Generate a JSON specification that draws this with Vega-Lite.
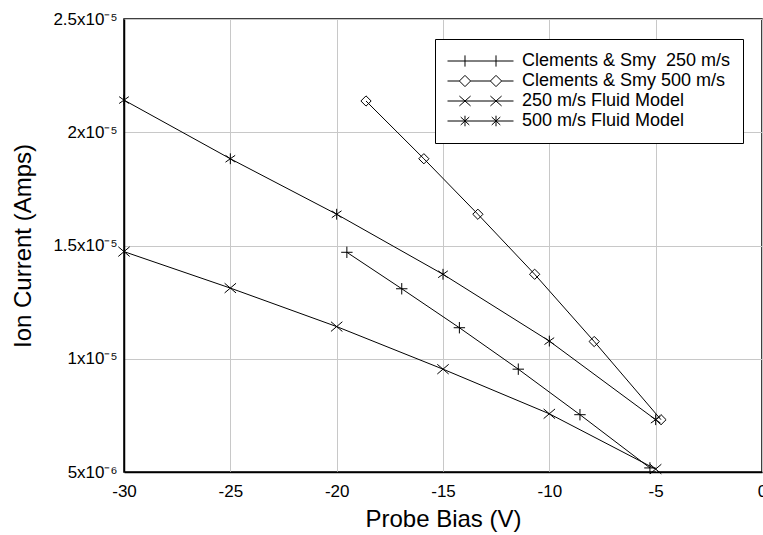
{
  "$schema": "https://vega.github.io/schema/vega-lite/v6.json",
  "width": 638,
  "height": 453,
  "autosize": {"type": "none"},
  "padding": {"left": 124, "top": 19, "right": 1, "bottom": 63},
  "background": "white",
  "config": {
    "font": "Liberation Sans",
    "view": {"stroke": "black", "strokeWidth": 1.5},
    "axis": {
      "labelFont": "Liberation Sans",
      "titleFont": "Liberation Sans",
      "labelColor": "black",
      "titleColor": "black",
      "labelFontSize": 17,
      "titleFontSize": 24,
      "titleFontWeight": "normal",
      "gridColor": "#c8c8c8",
      "gridWidth": 1,
      "domainColor": "black",
      "domainWidth": 1.5,
      "ticks": false
    }
  },
  "datasets": {
    "pts": [
      {"series": "Clements & Smy\u00a0 250 m/s", "bias": -19.52, "current": 1.470e-5},
      {"series": "Clements & Smy\u00a0 250 m/s", "bias": -16.94, "current": 1.309e-5},
      {"series": "Clements & Smy\u00a0 250 m/s", "bias": -14.23, "current": 1.137e-5},
      {"series": "Clements & Smy\u00a0 250 m/s", "bias": -11.46, "current": 0.954e-5},
      {"series": "Clements & Smy\u00a0 250 m/s", "bias": -8.56, "current": 0.753e-5},
      {"series": "Clements & Smy\u00a0 250 m/s", "bias": -5.27, "current": 0.518e-5},
      {"series": "Clements & Smy 500 m/s", "bias": -18.62, "current": 2.138e-5},
      {"series": "Clements & Smy 500 m/s", "bias": -15.90, "current": 1.883e-5},
      {"series": "Clements & Smy 500 m/s", "bias": -13.36, "current": 1.638e-5},
      {"series": "Clements & Smy 500 m/s", "bias": -10.69, "current": 1.373e-5},
      {"series": "Clements & Smy 500 m/s", "bias": -7.89, "current": 1.076e-5},
      {"series": "Clements & Smy 500 m/s", "bias": -4.75, "current": 0.731e-5},
      {"series": "250 m/s Fluid Model", "bias": -30, "current": 1.473e-5},
      {"series": "250 m/s Fluid Model", "bias": -25, "current": 1.312e-5},
      {"series": "250 m/s Fluid Model", "bias": -20, "current": 1.142e-5},
      {"series": "250 m/s Fluid Model", "bias": -15, "current": 0.954e-5},
      {"series": "250 m/s Fluid Model", "bias": -10, "current": 0.757e-5},
      {"series": "250 m/s Fluid Model", "bias": -5, "current": 0.513e-5},
      {"series": "500 m/s Fluid Model", "bias": -30, "current": 2.142e-5},
      {"series": "500 m/s Fluid Model", "bias": -25, "current": 1.883e-5},
      {"series": "500 m/s Fluid Model", "bias": -20, "current": 1.638e-5},
      {"series": "500 m/s Fluid Model", "bias": -15, "current": 1.373e-5},
      {"series": "500 m/s Fluid Model", "bias": -10, "current": 1.078e-5},
      {"series": "500 m/s Fluid Model", "bias": -5, "current": 0.731e-5}
    ]
  },
  "data": {"name": "pts"},
  "encoding": {
    "x": {
      "field": "bias",
      "type": "quantitative",
      "scale": {"domain": [-30, 0], "nice": false, "zero": false},
      "axis": {
        "title": "Probe Bias (V)",
        "values": [-30, -25, -20, -15, -10, -5, 0],
        "labelExpr": "'' + datum.value",
        "labelFlush": false,
        "labelPadding": 11,
        "titlePadding": 8
      }
    },
    "y": {
      "field": "current",
      "type": "quantitative",
      "scale": {"domain": [0.000005, 0.000025], "nice": false, "zero": false},
      "axis": {
        "title": "Ion Current (Amps)",
        "values": [0.000005, 0.00001, 0.000015, 0.00002, 0.000025],
        "labelExpr": "round(datum.value * 1e7) == 50 ? '5x10⁻⁶' : round(datum.value * 1e7) == 100 ? '1x10⁻⁵' : round(datum.value * 1e7) == 150 ? '1.5x10⁻⁵' : round(datum.value * 1e7) == 200 ? '2x10⁻⁵' : '2.5x10⁻⁵'",
        "labelPadding": 7,
        "titlePadding": 17
      }
    }
  },
  "layer": [
    {
      "mark": {"type": "line", "color": "black", "strokeWidth": 1},
      "encoding": {"detail": {"field": "series", "type": "nominal"}}
    },
    {
      "mark": {"type": "point", "filled": false, "color": "black", "strokeWidth": 1, "size": 130, "opacity": 1},
      "encoding": {
        "shape": {
          "field": "series",
          "type": "nominal",
          "scale": {
            "domain": ["Clements & Smy\u00a0 250 m/s", "Clements & Smy 500 m/s", "250 m/s Fluid Model", "500 m/s Fluid Model"],
            "range": [
              "M-1,0L1,0M0,-1L0,1",
              "M0,-0.9L0.9,0L0,0.9L-0.9,0Z",
              "M-1,-0.85L1,0.85M-1,0.85L1,-0.85",
              "M0,-0.95L0,0.95M-0.85,-0.6L0.85,0.6M-0.85,0.6L0.85,-0.6"
            ]
          },
          "legend": null
        }
      }
    },
    {
      "mark": {"type": "point", "filled": false, "color": "black", "strokeWidth": 1, "opacity": 0},
      "encoding": {
        "shape": {
          "field": "series",
          "type": "nominal",
          "scale": {
            "domain": ["Clements & Smy\u00a0 250 m/s", "Clements & Smy 500 m/s", "250 m/s Fluid Model", "500 m/s Fluid Model"],
            "range": [
              "M-1,0L1,0M-0.47,-0.17L-0.47,0.17M0.47,-0.17L0.47,0.17",
              "M-1,0L-0.64,0M-0.3,0L0.3,0M0.64,0L1,0M-0.47,-0.17L-0.3,0L-0.47,0.17L-0.64,0ZM0.47,-0.17L0.64,0L0.47,0.17L0.3,0Z",
              "M-1,0L1,0M-0.64,-0.15L-0.3,0.15M-0.64,0.15L-0.3,-0.15M0.3,-0.15L0.64,0.15M0.3,0.15L0.64,-0.15",
              "M-1,0L1,0M-0.6,-0.12L-0.34,0.12M-0.6,0.12L-0.34,-0.12M-0.47,-0.16L-0.47,0.16M0.34,-0.12L0.6,0.12M0.34,0.12L0.6,-0.12M0.47,-0.16L0.47,0.16"
            ]
          },
          "legend": {
            "title": null,
            "orient": "none",
            "legendX": 311,
            "legendY": 20,
            "padding": 12,
            "fillColor": "white",
            "strokeColor": "black",
            "labelFont": "Liberation Sans",
            "labelFontSize": 18,
            "labelColor": "black",
            "labelOffset": 8,
            "labelLimit": 400,
            "symbolSize": 4356,
            "symbolStrokeWidth": 1,
            "symbolStrokeColor": "black",
            "clipHeight": 20,
            "rowPadding": 0
          }
        }
      }
    }
  ],
  "resolve": {"scale": {"shape": "independent"}, "legend": {"shape": "independent"}}
}
